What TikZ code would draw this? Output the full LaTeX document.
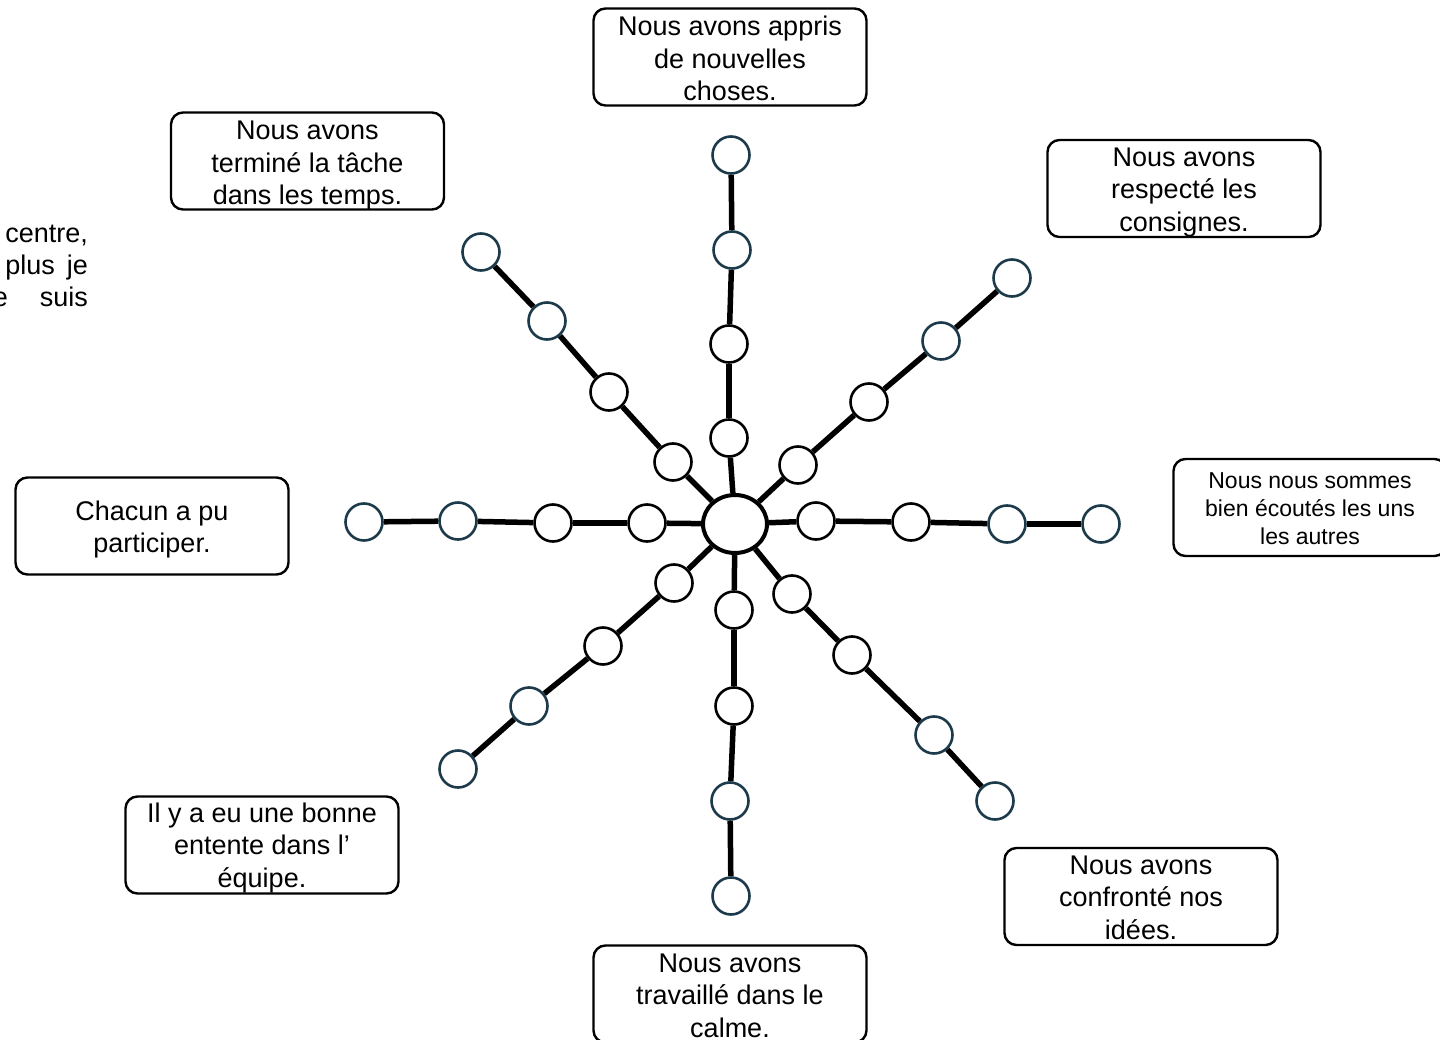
\documentclass[tikz,border=0pt]{standalone}
\usepackage{fontspec}
\setmainfont{Liberation Sans}
\usetikzlibrary{shapes.geometric}
\definecolor{tealdark}{RGB}{28,58,74}
\begin{document}
\begin{tikzpicture}[x=1pt,y=-1pt,
  lbl/.style={draw=black,line width=2.4pt,rounded corners=12pt,minimum width=273pt,minimum height=97pt,inner sep=0pt},
  lbltext/.style={align=center,inner sep=0pt,font=\fontsize{27}{32.5}\selectfont},
  smalltext/.style={lbltext,font=\fontsize{23}{28}\selectfont},
  dot/.style={circle,draw=black,line width=2.6pt,fill=white,minimum size=37pt,inner sep=0pt},
  outdot/.style={dot,draw=tealdark},
  hubstyle/.style={ellipse,draw=black,line width=4pt,fill=white,minimum width=64pt,minimum height=58pt,inner sep=0pt},
  spoke/.style={line width=5.5pt},
  sidetext/.style={font=\fontsize{27}{32.5}\selectfont,inner sep=0pt}]
\useasboundingbox (0,0) rectangle (1440,1040);

% side text (cut off at left edge, as in the reference)
\node[sidetext,anchor=base east] (s1) at (88,243) {centre,};
\node[sidetext,anchor=base east] (s2) at (55,275) {plus};
\node[sidetext,anchor=base east] (s3) at (88,275) {je};
\node[sidetext,anchor=base east] (s4) at (8,307) {e};
\node[sidetext,anchor=base east] (s5) at (88,307) {suis};

% label boxes
\node[lbl] (bt) at (730,57) {};
\node[lbl] (bul) at (307.5,161) {};
\node[lbl] (bur) at (1184,188.5) {};
\node[lbl] (br) at (1310,507.5) {};
\node[lbl] (bl) at (152,526) {};
\node[lbl] (bll) at (262,845) {};
\node[lbl] (blr) at (1141,896.5) {};
\node[lbl] (bd) at (730,994) {};

% label texts
\node[lbltext] (tt) at ([yshift=-1.5pt]bt.center) {Nous avons appris\\de nouvelles\\choses.};
\node[lbltext] (tul) at ([yshift=-5pt]bul.center) {Nous avons\\terminé la tâche\\dans les temps.};
\node[lbltext] (tur) at ([yshift=-4pt]bur.center) {Nous avons\\respecté les\\consignes.};
\node[smalltext] (tr) at ([yshift=-1.5pt]br.center) {Nous nous sommes\\bien écoutés les uns\\les autres};
\node[lbltext] (tl) at ([yshift=-3.5pt]bl.center) {Chacun a pu\\participer.};
\node[lbltext] (tll) at ([yshift=-3pt]bll.center) {Il y a eu une bonne\\entente dans l’\\équipe.};
\node[lbltext] (tlr) at ([yshift=-1pt]blr.center) {Nous avons\\confronté nos\\idées.};
\node[lbltext] (td) at ([yshift=-1.5pt]bd.center) {Nous avons\\travaillé dans le\\calme.};

% hub
\node[hubstyle] (hub) at (735,524) {};

% top
\node[dot] (t1) at (729,438) {};
\node[dot] (t2) at (729,344) {};
\node[outdot] (t3) at (732,250) {};
\node[outdot] (t4) at (731,155) {};
% upper left
\node[dot] (ul1) at (673,462) {};
\node[dot] (ul2) at (609,392) {};
\node[outdot] (ul3) at (547,321) {};
\node[outdot] (ul4) at (481,252) {};
% upper right
\node[dot] (ur1) at (798,465) {};
\node[dot] (ur2) at (869,402) {};
\node[outdot] (ur3) at (941,341) {};
\node[outdot] (ur4) at (1012,278) {};
% left
\node[dot] (l1) at (647,523) {};
\node[dot] (l2) at (553,523) {};
\node[outdot] (l3) at (458,521) {};
\node[outdot] (l4) at (364,522) {};
% right
\node[dot] (r1) at (816,521) {};
\node[dot] (r2) at (911,522) {};
\node[outdot] (r3) at (1007,524) {};
\node[outdot] (r4) at (1101,524) {};
% lower left
\node[dot] (ll1) at (674,583) {};
\node[dot] (ll2) at (603,646) {};
\node[outdot] (ll3) at (529,706) {};
\node[outdot] (ll4) at (458,769) {};
% down
\node[dot] (d1) at (734,610) {};
\node[dot] (d2) at (734,706) {};
\node[outdot] (d3) at (730,801) {};
\node[outdot] (d4) at (731,896) {};
% lower right
\node[dot] (lr1) at (792,594) {};
\node[dot] (lr2) at (852,655) {};
\node[outdot] (lr3) at (934,735) {};
\node[outdot] (lr4) at (995,801) {};

\foreach \s in {t,ul,ur,l,r,ll,d,lr}{
  \draw[spoke] (hub) -- (\s1);
  \draw[spoke] (\s1) -- (\s2);
  \draw[spoke] (\s2) -- (\s3);
  \draw[spoke] (\s3) -- (\s4);
}
\end{tikzpicture}
\end{document}
